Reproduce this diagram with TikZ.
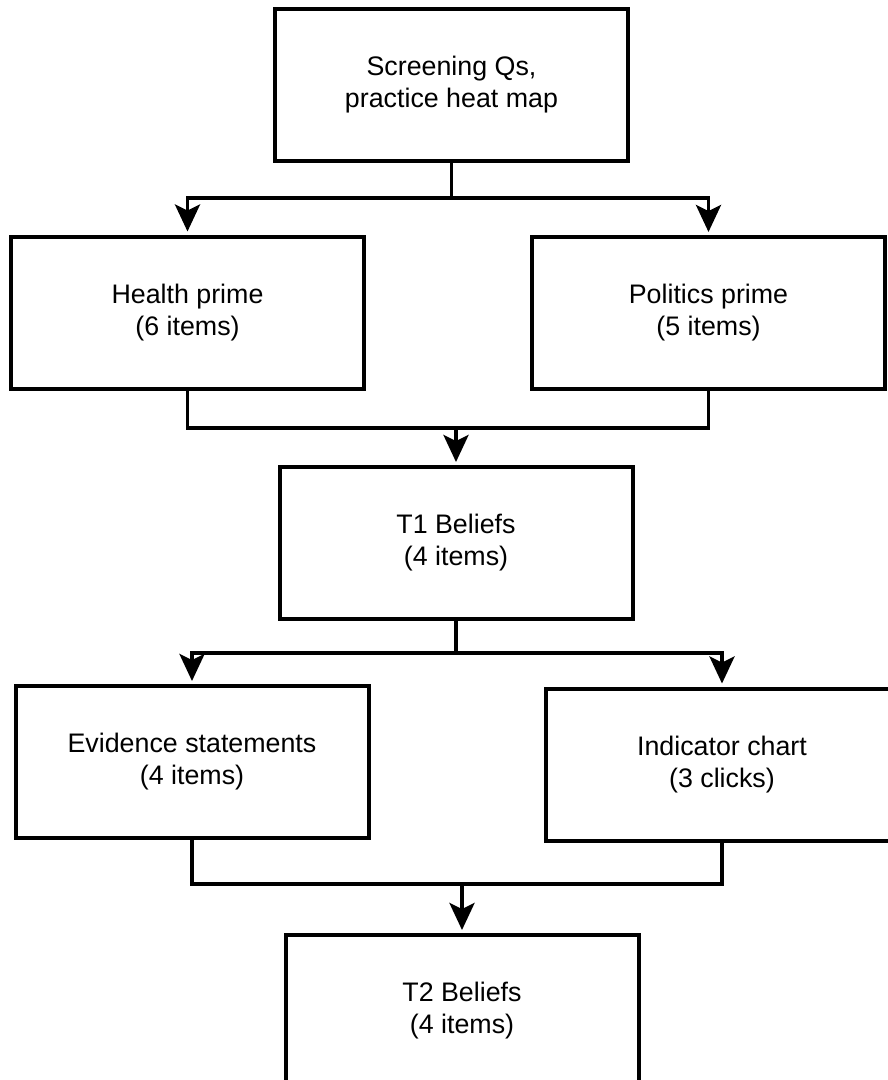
\documentclass[tikz,border=0pt]{standalone}
\usepackage{fontspec}
\setmainfont{Liberation Sans}
\usetikzlibrary{arrows.meta}
\tikzset{
  box/.style={draw=black, line width=4pt, fill=white, align=center, inner sep=0pt,
    minimum width=353pt, minimum height=152pt,
    font=\fontsize{26.8}{32}\selectfont},
  conn/.style={draw=black, line width=3.8pt, line cap=rect},
  arr/.style={conn, -{Stealth[length=27pt,width=25pt,inset=6pt]}, shorten >=3pt}
}
\begin{document}
\begin{tikzpicture}[x=1pt,y=-1pt]
\useasboundingbox (0,0) rectangle (888,1080);
\node[box] (b1) at (451.5,85) {Screening Qs,\\practice heat map};
\node[box] (health) at (187.5,312.5) {Health prime\\(6 items)};
\node[box] (politics) at (708.5,313) {Politics prime\\(5 items)};
\node[box] (t1) at (456,543) {T1 Beliefs\\(4 items)};
\node[box] (evid) at (192,762) {Evidence statements\\(4 items)};
\node[box] (indic) at (722,764.5) {Indicator chart\\(3 clicks)};
\node[box] (t2) at (462,1011) {T2 Beliefs\\(4 items)};

\coordinate (y1) at (0,198);
\coordinate (y2) at (0,428);
\coordinate (y3) at (0,653);
\coordinate (y4) at (0,884);

% fork 1
\draw[conn] (b1.south) -- (b1.south |- y1);
\draw[arr] (b1.south |- y1) -| (health.north);
\draw[arr] (b1.south |- y1) -| (politics.north);
% merge 1
\draw[conn] (health.south) |- (t1.north |- y2);
\draw[conn] (politics.south) |- (t1.north |- y2);
\draw[arr] (t1.north |- y2) -- (t1.north);
% fork 2
\draw[conn] (t1.south) -- (t1.south |- y3);
\draw[arr] (t1.south |- y3) -| (evid.north);
\draw[arr] (t1.south |- y3) -| (indic.north);
% merge 2
\draw[conn] (evid.south) |- (t2.north |- y4);
\draw[conn] (indic.south) |- (t2.north |- y4);
\draw[arr] (t2.north |- y4) -- (t2.north);
\end{tikzpicture}
\end{document}
